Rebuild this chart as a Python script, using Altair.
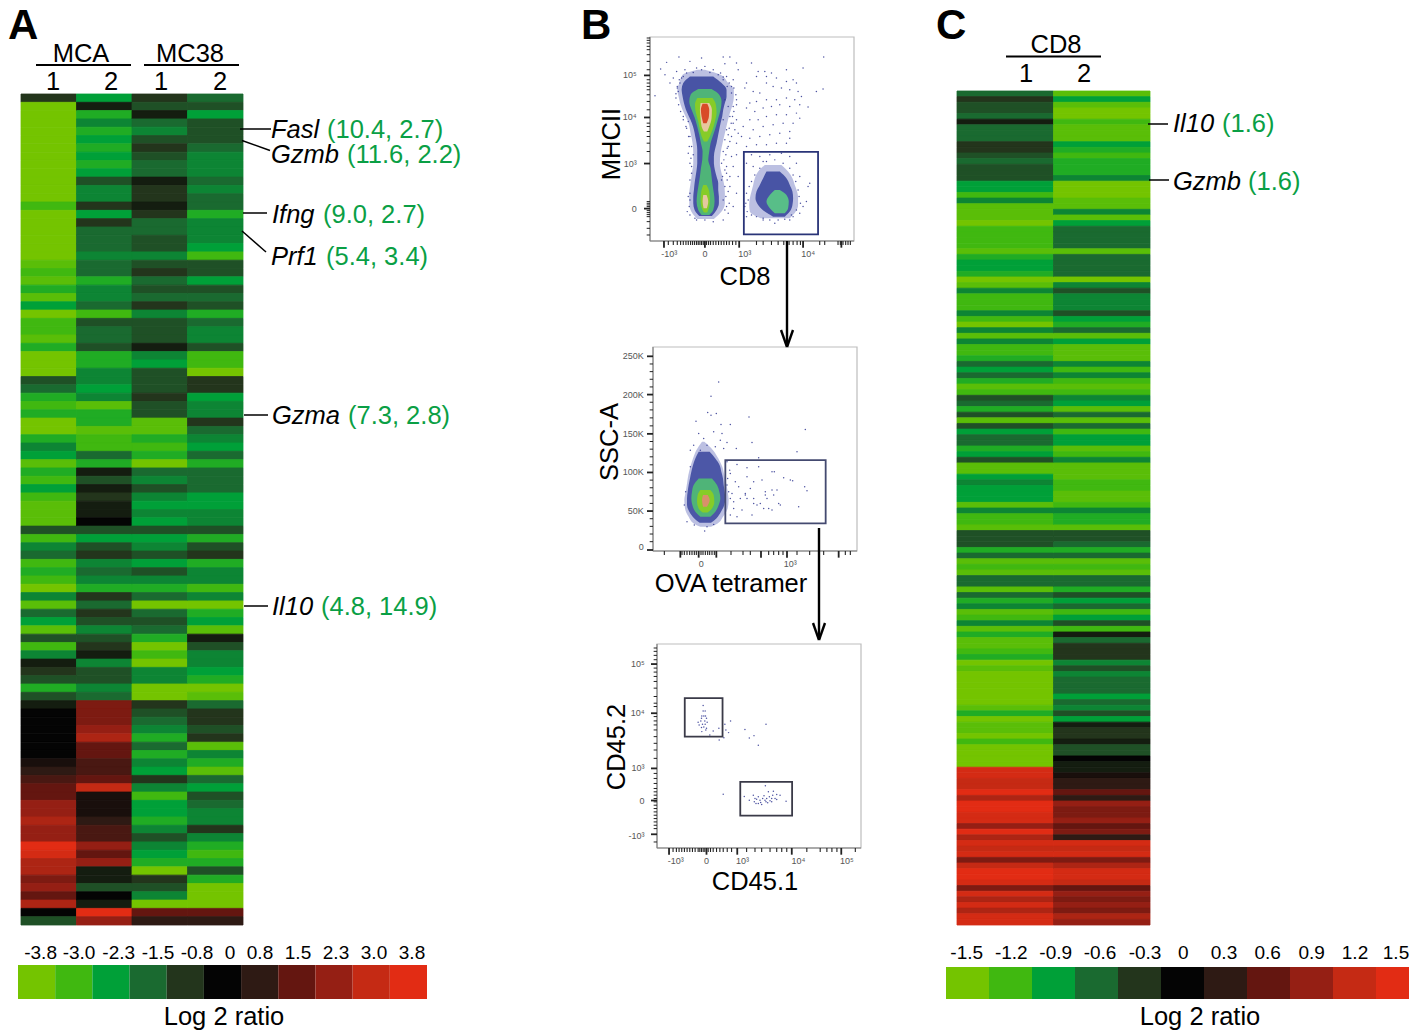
import altair as alt
import pandas as pd

FONT = "Liberation Sans"
PALETTE = ["#74C400", "#40B810", "#00A038", "#1A6A30", "#23351C", "#040404",
           "#2E1A14", "#641610", "#951F14", "#C52A14", "#E22C14"]

A_STEP = 0.375
C_STEP = 0.15
A_MCA1 = [-2,-10,-10,-10,-10,-10,-10,-10,-10,-10,
          -10,-10,-10,-8,-10,-10,-10,-10,-10,-10,
          -9,-8,-9,-7,-9,-6,-10,-8,-8,-9,
          -7,-10,-10,-10,-3,-4,-7,-8,-7,-10,
          -10,-7,-5,-6,-9,-7,-8,-6,-8,-9,
          -9,-9,-3,-8,-5,-4,-8,-7,-8,-10,
          -5,-9,-4,-6,-9,-3,-8,-5,-1,-2,
          -3,-7,-3,-1,0,0,0,0,0,0,
          1,2,3,4,4,6,6,7,6,6,
          10,9,7,7,5,6,4,7,0,-3]
A_MCA2 = [-6,-1,-7,-5,-7,-6,-7,-6,-7,-6,
          -3,-5,-5,-2,-6,-2,-4,-4,-4,-5,
          -4,-4,-7,-5,-5,-4,-8,-3,-4,-4,
          -3,-7,-7,-5,-5,-6,-5,-9,-7,-7,
          -9,-8,-8,-4,-7,-1,-3,-1,-2,-1,
          -1,0,-3,-6,-3,-2,-5,-4,-5,-7,
          -2,-4,-2,-3,-5,-3,-2,-1,-5,-3,
          -3,-5,-4,5,5,5,6,7,4,4,
          3,3,4,8,1,1,1,2,3,3,
          6,4,6,-1,-1,-3,0,-1,10,6]
A_MC381 = [-2,-3,-1,-4,-5,-3,-2,-3,-4,-4,
           -1,-2,-2,-1,-2,-4,-4,-3,-3,-5,
           -3,-2,-4,-3,-4,-2,-5,-3,-3,-3,
           -1,-5,-6,-3,-3,-3,-2,-3,-3,-9,
           -9,-7,-8,-7,-10,-4,-5,-3,-5,-6,
           -5,-6,-3,-6,-5,-3,-6,-3,-5,-7,
           -4,-10,-4,-3,-4,-7,-10,-8,-10,-5,
           -5,-10,-10,-2,-3,-4,-5,-7,-4,-7,
           -5,-6,-2,-5,-8,-6,-6,-7,-5,-3,
           -5,-6,-7,-10,-2,-3,-5,-10,4,2]
A_MC382 = [-4,-3,-6,-3,-3,-3,-4,-5,-5,-5,
           -4,-5,-4,-4,-7,-5,-5,-5,-6,-8,
           -3,-3,-6,-3,-4,-3,-7,-4,-5,-5,
           -3,-8,-8,-10,-2,-2,-6,-5,-5,-2,
           -4,-5,-6,-4,-7,-4,-4,-4,-6,-6,
           -5,-5,-3,-7,-3,-2,-7,-5,-5,-8,
           -5,-10,-7,-6,-9,-1,-3,-5,-5,-6,
           -7,-10,-9,-4,-2,-2,-3,-2,-9,-5,
           -7,-9,-4,-6,-3,-4,-5,-5,-2,-5,
           -7,-8,-7,-3,-7,-10,-10,-10,4,2]
C_CD81 = [-4,-2,-3,-3,-4,-1,-4,-4,-4,-2,
          -2,-3,-4,-3,-3,-3,-6,-6,-8,-5,
          -9,-9,-9,-10,-8,-8,-8,-8,-9,-7,
          -6,-6,-7,-10,-9,-5,-8,-8,-8,-5,
          -8,-10,-5,-9,-5,-8,-8,-7,-4,-6,
          -4,-7,-9,-8,-3,-4,-7,-3,-9,-3,
          -6,-4,-4,-7,-6,-3,-9,-9,-6,-5,
          -6,-6,-6,-9,-5,-8,-8,-9,-3,-3,
          -3,-7,-4,-9,-8,-9,-4,-4,-9,-4,
          -7,-5,-9,-8,-5,-9,-7,-9,-9,-8,
          -7,-10,-9,-10,-10,-10,-10,-10,-10,-9,
          -7,-10,-9,-9,-10,-8,-10,-10,-10,-10,
          9,9,8,8,10,7,10,10,9,9,
          6,10,7,9,8,9,5,8,10,10,
          9,5,9,7,9,7,9,9]
C_CD82 = [-9,-6,-9,-10,-10,-8,-9,-9,-9,-6,
          -7,-8,-7,-7,-7,-5,-10,-10,-10,-9,
          -9,-5,-9,-6,-4,-4,-4,-4,-9,-4,
          -4,-4,-4,-10,-5,-3,-5,-5,-5,-3,
          -6,-7,-4,-9,-6,-9,-9,-9,-5,-8,
          -5,-8,-9,-8,-5,-6,-9,-4,-9,-4,
          -8,-6,-6,-9,-8,-5,-9,-9,-9,-8,
          -8,-9,-9,-8,-5,-7,-7,-9,-3,-3,
          -4,-7,-4,-9,-8,-9,-4,-4,-7,-3,
          -6,-4,-8,-6,-3,-8,-1,-4,-2,-2,
          -2,-5,-3,-5,-4,-4,-4,-6,-4,-5,
          -3,-6,-1,-2,-2,-1,-3,-3,0,-1,
          -1,1,2,2,4,2,6,5,5,6,
          4,5,2,9,8,9,5,7,9,9,
          8,4,6,5,6,5,7,6]

KEY_A = ["-3.8","-3.0","-2.3","-1.5","-0.8","0","0.8","1.5","2.3","3.0","3.8"]
KEY_C = ["-1.5","-1.2","-0.9","-0.6","-0.3","0","0.3","0.6","0.9","1.2","1.5"]

P1_HALO0 = [(150,322,345),(165,278,392),(190,268,415),(210,262,432),(230,266,432),(255,272,428),(280,282,420),(310,296,412),
            (340,302,405),(370,308,398),(400,310,392),(430,310,390),(460,306,395),(490,302,402),(520,298,405),(550,298,405),
            (575,304,395),(597,322,372)]
P1_BLUE = [(170,300,370),(190,280,395),(210,275,410),(230,278,410),(250,282,405),(270,288,400),(290,297,397),
           (310,306,392),(330,312,388),(350,316,384),(370,320,380),(390,322,375),(410,322,372),(430,322,372),(450,320,375),
           (470,317,380),(490,314,385),(510,312,385),(530,310,387),(550,310,387),(570,314,380),(588,328,366)]
P1_GREEN = [(208,325,365),(225,302,388),(245,298,395),(270,305,392),(295,315,385),(320,322,378),(345,328,370),(370,333,362),
            (395,338,358),(420,337,355),(445,333,362),(470,330,365),(495,326,368),(520,322,372),(545,320,374),(570,325,370),(585,335,358)]
P1_LIME = [(235,322,368),(255,315,378),(280,318,380),(305,325,375),(330,330,368),(350,335,360),(365,342,352)]
P1_PALE = [(250,332,358),(270,330,366),(295,332,365),(320,335,358),(335,342,352)]
P1_RED = [(252,338,352),(270,333,358),(290,335,357),(310,340,350)]
P1_LIME2 = [(495,340,350),(515,334,358),(540,332,360),(560,334,358),(578,342,352)]
P1_PALE2 = [(525,340,350),(545,338,355),(565,341,351)]
P1_HALO = [(435,525,575),(455,505,595),(475,495,608),(495,490,615),(515,485,622),(535,480,625),(555,478,625),(575,480,618),(595,512,600)]
P1_BLUE2 = [(455,530,570),(475,520,590),(495,510,600),(515,500,608),(535,497,610),(555,505,608),(575,525,600),(590,550,585)]
P1_GREEN2 = [(510,555,570),(525,540,590),(545,530,597),(565,540,595),(580,555,585)]
P1_DOTS = [(195,228),(212,148),(230,128),(225,165),(267,112),(300,125),(335,115),(400,112),(420,112),(405,132),(440,130),(445,150),
           (485,130),(505,155),(525,155),(545,160),(590,150),(640,145),(702,112),(700,208),(680,215),(620,190),(610,180),(590,185),
           (560,175),(530,170),(500,170),(470,190),(465,205),(490,215),(510,220),(530,190),(550,200),(575,205),(600,210),(625,215),
           (635,230),(615,240),(590,235),(560,240),(530,240),(500,245),(480,250),(470,265),(495,275),(520,265),(545,260),(570,255),
           (600,260),(630,255),(655,262),(620,280),(590,285),(560,285),(530,290),(505,300),(480,300),(460,320),(490,330),(520,320),
           (550,315),(580,310),(610,310),(630,295),(600,335),(570,340),(540,345),(510,350),(480,355),(455,350),(440,300),(435,330),
           (425,350),(440,370),(470,380),(500,375),(530,375),(560,370),(590,370),(600,355),(420,290),(430,260),(440,240),(425,220),
           (412,200),(430,180),(410,170),(392,160),(370,150),(345,140),(320,145),(285,150),(260,155),(250,175),(240,190),(262,200),
           (258,235),(290,325),(300,350),(305,380),(295,400),(410,330),(405,360),(400,395),(395,430),(410,460),(430,440),(445,470),
           (420,500),(440,520),(430,560),(415,580),(400,600),(370,605),(345,600),(320,600),(660,490),(650,545),(640,560),(655,500),
           (620,430),(630,470),(600,410),(575,400),(540,405),(510,410),(485,405),(470,430),(490,440),(520,425),(465,560),(470,590),
           (610,590),(630,580),(600,600),(555,610),(520,600),(430,310),(445,340),(415,380),(425,410),(440,405),(400,300),(415,260),
           (405,240),(425,200),(400,180),(280,170),(268,180),(265,215),(280,290),(295,305),(310,405),(305,440),(300,480),(300,520),
           (298,560),(405,500),(400,540),(405,570),(395,480),
           (262,205),(258,222),(270,190),(275,175),(290,160),(310,158),(335,150),(360,158),(385,165),(400,172),(418,190),(432,205),
           (438,225),(440,255),(432,275),(428,290),(424,310),(418,325),(415,345),(420,365),(412,385),(408,405),(402,420),(410,440),
           (405,450),(398,470),(412,480),(420,470),(415,515),(408,530),(418,550),(410,560),(300,540),(295,530),(292,575),(300,585),
           (315,595),(305,460),(300,430),(303,415),(298,380),(296,350),(288,320),(280,300),(272,275),(266,255),
           (478,500),(470,520),(475,540),(468,550),(472,575),(485,585),(500,590),(520,595),(540,600),(565,600),(585,598),(605,585),
           (620,570),(632,550),(628,530),(625,510),(618,485),(610,465),(600,445),(580,430),(555,420),(530,425),(510,445),(495,465),(485,485)]
P2_HALO = [(320,335,342),(345,318,368),(370,308,384),(395,300,396),(420,294,402),(445,290,408),(470,286,412),(495,282,415),
           (520,284,412),(545,295,398),(565,310,382),(575,330,362)]
P2_BLUE = [(350,325,358),(370,315,375),(390,308,388),(410,303,393),(430,299,398),(450,295,400),(470,292,403),
           (490,290,405),(510,290,402),(530,297,392),(550,312,378),(563,328,362)]
P2_GREEN = [(430,325,365),(450,310,380),(470,305,387),(490,303,390),(510,306,385),(530,315,375),(545,330,360)]
P2_LIME = [(465,330,360),(480,322,370),(500,320,372),(520,325,365),(532,337,352)]
P2_RED = [(480,338,352),(495,335,358),(515,338,350)]
P2_DOTS = [(418,405),(440,388),(470,398),(505,368),(505,395),(545,410),(552,410),(580,428),(607,437),(515,435),(490,440),(470,425),
           (435,440),(420,415),(445,455),(480,460),(465,480),(490,490),(525,470),(545,465),(560,465),(530,490),(565,505),(535,520),
           (520,520),(500,510),(490,505),(465,475),(450,490),(430,500),(420,490),(415,470),(455,525),(430,520),(420,540),(440,545),
           (485,540),(545,525),(570,510),(625,515),(643,455),(650,467),(600,435),(410,450),(425,475),(470,490),(510,505),(550,480),
           (525,480),(385,140),(362,183),(352,232),(378,235),(362,240),(317,258),(420,268),(392,268),(476,245),(645,283),(325,295),
           (370,290),(395,295),(340,310),(310,330),(390,315),(410,322),(485,322),(438,340),(620,350),(300,345),(350,330),(375,335),
           (400,340),(343,588),(312,570),(290,560),(370,568),(350,575),(330,345),(282,510),(286,470),(300,395),(410,380),(412,430)]
P3_DOTS = [(340,212),(340,228),(346,228),(336,243),(342,243),(347,243),(335,250),(350,250),(325,262),(333,258),(345,258),(352,262),
           (328,270),(338,268),(346,268),(335,278),(342,276),(350,280),(336,290),(348,285),(370,288),(360,300),(387,280),(405,268),
           (422,258),(408,285),(416,293),(388,315),(402,308),(465,284),(478,309),(492,302),(505,331),(528,268),(400,477),(463,484),
           (478,495),(490,480),(495,490),(493,500),(500,492),(505,485),(510,495),(512,502),(518,490),(522,482),(525,495),(528,500),
           (530,490),(535,470),(538,485),(540,497),(545,490),(548,480),(550,468),(555,490),(560,493),(570,480),(526,452),(533,503),
           (505,505),(515,508),(588,498),(498,505),(545,500),(560,478)]

PANELS = {
    "p1": dict(xd=[180,793], yd=[52,663], xr=[650,854], yr=[37,241], gate=[(462,396,685,643)], gc="#2A3478",
               xmaj=[222,345,448,640,755], ymaj=[167,293,431,566],
               xmin=[235,250,262,272,280,288,295,302,308,314,320,325,330,335,340,350,356,362,370,378,386,394,402,410,418,428,438,
                     500,520,545,565,582,598,610,622,632,690,705,745,752,760,768,775,782],
               ymin=[55,62,70,80,90,105,125,150,180,190,200,210,225,245,270,310,320,335,350,370,395,545,550,555,560,572,578,584,590,605,625,645],
               xlab=[("-10³",238),("0",345),("10³",465),("10⁴",655)], xly=712,
               ylab=[("10⁵",167),("10⁴",293),("10³",431),("0",566)], ylx=140),
    "p2": dict(xd=[188,800], yd=[35,648], xr=[653,857], yr=[347,551], gate=[(405,375,706,565)], gc="#444A70",
               xmaj=[270,325,378,512,590,745], ymaj=[63,178,296,412,528,645],
               xmin=[222,275,282,290,298,305,312,318,332,338,345,352,358,365,372,422,458,480,535,550,565,578,620,658,700,765,780],
               ymin=[86,109,132,155,201,224,248,272,319,342,365,389,435,458,482,505,551,574,597,620],
               xlab=[("0",333),("10³",600)], xly=697,
               ylab=[("250K",63),("200K",178),("150K",296),("100K",412),("50K",528),("0",637)], ylx=160),
    "p3": dict(xd=[202,812], yd=[28,638], xr=[657,861], yr=[644,848], gate=[(285,190,398,305),(451,440,606,541)], gc="#3A3A48",
               xmaj=[238,350,442,605,753], ymaj=[88,235,400,496,597],
               xmin=[250,260,268,276,284,292,300,308,316,325,330,335,340,345,355,362,370,380,390,400,412,425,470,495,515,540,560,575,590,650,690,710,725,740,795],
               ymin=[40,50,62,75,100,112,125,140,160,185,205,215,245,258,270,285,305,325,345,370,415,430,445,460,470,480,490,500,510,520,530,540,550,560,570,580,620],
               xlab=[("-10³",258),("0",350),("10³",458),("10⁴",625),("10⁵",770)], xly=687,
               ylab=[("10⁵",88),("10⁴",235),("10³",400),("0",496),("-10³",603)], ylx=165),
}

PW, PH = 1401, 1023
pgx = alt.Scale(domain=[8, 8 + PW], range=[0, PW], nice=False, zero=False)
pgy = alt.Scale(domain=[8, 8 + PH], range=[0, PH], nice=False, zero=False)


def X(f, s):
    return alt.X(f, type="quantitative", scale=s, axis=None)


def Y(f, s):
    return alt.Y(f, type="quantitative", scale=s, axis=None)


def X2(f):
    return alt.X2(f)


def page_text(rows, size=25.5, color="black", **kw):
    df = pd.DataFrame(rows, columns=["t", "x", "y"])
    return alt.Chart(df).mark_text(font=FONT, fontSize=size, color=color, baseline="alphabetic", **kw).encode(
        x=X("x", pgx), y=Y("y", pgy), text="t:N")


def page_lines(rows, width=1.6, color="black"):
    df = pd.DataFrame(rows, columns=["x", "y", "x2", "y2"])
    return alt.Chart(df).mark_rule(color=color, strokeWidth=width).encode(
        x=X("x", pgx), y=Y("y", pgy), x2=X2("x2"), y2=alt.Y2("y2"))


def heat(cols, step, xr, yr):
    n = len(cols[0])
    rows = []
    for c, col in enumerate(cols):
        for r, v in enumerate(col):
            rows.append(dict(c=c, c2=c + 1, r=r, r2=r + 1, v=v * step))
    sx = alt.Scale(domain=[0, len(cols)], range=[xr[0] - 8, xr[1] - 8], nice=False, zero=False)
    sy = alt.Scale(domain=[0, n], range=[yr[0] - 8, yr[1] - 8], nice=False, zero=False)
    dom = [step * 2 * i for i in range(-5, 6)]
    cs = alt.Scale(domain=dom, range=PALETTE, interpolate="rgb")
    return alt.Chart(pd.DataFrame(rows)).mark_rect(strokeWidth=0.8).encode(
        x=X("c", sx), x2=X2("c2"), y=Y("r", sy), y2=alt.Y2("r2"),
        fill=alt.Fill("v:Q", scale=cs, legend=None),
        stroke=alt.Stroke("v:Q", scale=cs, legend=None))


def key(labels, xr, yr):
    rows = [dict(i=i, i2=i + 1, lab=l, col=PALETTE[i]) for i, l in enumerate(labels)]
    sx = alt.Scale(domain=[0, 11], range=[xr[0] - 8, xr[1] - 8], nice=False, zero=False)
    sy = alt.Scale(domain=[0, 1], range=[yr[0] - 8, yr[1] - 8], nice=False, zero=False)
    return alt.Chart(pd.DataFrame(rows)).transform_calculate(a="0", b="1").mark_rect().encode(
        x=X("i", sx), x2=X2("i2"), y=Y("a", sy), y2=alt.Y2("b"),
        fill=alt.Fill("col:N", scale=None, legend=None))


def scales_of(p):
    sx = alt.Scale(domain=p["xd"], range=[p["xr"][0] - 8, p["xr"][1] - 8], nice=False, zero=False)
    sy = alt.Scale(domain=p["yd"], range=[p["yr"][0] - 8, p["yr"][1] - 8], nice=False, zero=False)
    return sx, sy


def band(p, rows, color, opacity=1.0):
    sx, sy = scales_of(p)
    df = pd.DataFrame(rows, columns=["y", "l", "r"])
    return alt.Chart(df).mark_area(orient="horizontal", interpolate="monotone", color=color, opacity=opacity).encode(
        x=X("l", sx), x2=X2("r"), y=Y("y", sy))


def dots(p, pts):
    sx, sy = scales_of(p)
    df = pd.DataFrame(pts, columns=["x", "y"])
    return alt.Chart(df).mark_circle(size=2.2, color="#2E3590", opacity=0.85).encode(x=X("x", sx), y=Y("y", sy))


def frame(p):
    sx, sy = scales_of(p)
    (x0, x1), (y0, y1) = p["xd"], p["yd"]
    out = []
    df = pd.DataFrame([dict(x=x0, x2=x1, y=y0, y2=y1)])
    out.append(alt.Chart(df).mark_rect(fillOpacity=0, stroke="#BDBDBD", strokeWidth=1.2).encode(
        x=X("x", sx), x2=X2("x2"), y=Y("y", sy), y2=alt.Y2("y2")))
    l = pd.DataFrame([dict(x=x0, x2=x1, y=y1, y2=y1), dict(x=x0, x2=x0, y=y0, y2=y1)])
    out.append(alt.Chart(l).mark_rule(color="#777777", strokeWidth=1).encode(
        x=X("x", sx), x2=X2("x2"), y=Y("y", sy), y2=alt.Y2("y2")))
    g = pd.DataFrame(p["gate"], columns=["x", "y", "x2", "y2"])
    out.append(alt.Chart(g).mark_rect(fillOpacity=0, stroke=p["gc"], strokeWidth=1.8).encode(
        x=X("x", sx), x2=X2("x2"), y=Y("y", sy), y2=alt.Y2("y2")))
    return out


def axes(p):
    sx, sy = scales_of(p)
    x0, y1 = p["xd"][0], p["yd"][1]
    out = []
    for vals, ln, w in ((p["xmaj"], 20, 1.8), (p["xmin"], 12, 1.1)):
        t = pd.DataFrame(dict(x=vals, y=y1, y2=y1 + ln))
        out.append(alt.Chart(t).mark_rule(color="#222222", strokeWidth=w).encode(
            x=X("x", sx), y=Y("y", sy), y2=alt.Y2("y2")))
    for vals, ln, w in ((p["ymaj"], 18, 1.8), (p["ymin"], 10, 1.0)):
        t = pd.DataFrame(dict(y=vals, x=x0, x2=x0 - ln))
        out.append(alt.Chart(t).mark_rule(color="#222222", strokeWidth=w).encode(
            x=X("x", sx), x2=X2("x2"), y=Y("y", sy)))
    xl = pd.DataFrame(p["xlab"], columns=["t", "x"]).assign(y=p["xly"])
    out.append(alt.Chart(xl).mark_text(font=FONT, fontSize=9, color="#555555", baseline="alphabetic").encode(
        x=X("x", sx), y=Y("y", sy), text="t:N"))
    yl = pd.DataFrame(p["ylab"], columns=["t", "y"]).assign(x=p["ylx"])
    out.append(alt.Chart(yl).mark_text(font=FONT, fontSize=9, color="#555555", baseline="middle", align="right").encode(
        x=X("x", sx), y=Y("y", sy), text="t:N"))
    return out


layers = []
layers.append(heat([A_MCA1, A_MCA2, A_MC381, A_MC382], A_STEP, (21, 243), (94, 925)))
layers.append(heat([C_CD81, C_CD82], C_STEP, (957, 1150), (91, 925)))
layers.append(key(KEY_A, (18, 427), (965, 999)))
layers.append(key(KEY_C, (946, 1419), (967, 999)))

p1, p2, p3 = PANELS["p1"], PANELS["p2"], PANELS["p3"]
BLUE = "#38449C"
LIGHT = "#8F96CE"
layers += [band(p1, P1_HALO0, LIGHT, 0.6), band(p1, P1_BLUE, BLUE, 0.88), band(p1, P1_GREEN, "#4FB478"), band(p1, P1_LIME, "#86CC28"),
           band(p1, P1_PALE, "#E6C8A0"), band(p1, P1_RED, "#D84A28"), band(p1, P1_LIME2, "#86CC28"),
           band(p1, P1_PALE2, "#E6C8A0"), band(p1, P1_HALO, LIGHT, 0.6), band(p1, P1_BLUE2, BLUE, 0.88),
           band(p1, P1_GREEN2, "#58BE88"), dots(p1, P1_DOTS)]
layers += [band(p2, P2_HALO, LIGHT, 0.6), band(p2, P2_BLUE, BLUE, 0.85), band(p2, P2_GREEN, "#4FB478"), band(p2, P2_LIME, "#86CC28"),
           band(p2, P2_RED, "#D8906A"), dots(p2, P2_DOTS)]
layers += [dots(p3, P3_DOTS)]
for p in (p1, p2, p3):
    layers += frame(p) + axes(p)

layers.append(page_text([("MCA", 81, 62), ("MC38", 190, 62), ("1", 53, 90), ("2", 111, 90), ("1", 161, 90), ("2", 220, 90),
                         ("CD8", 1056, 53), ("1", 1026, 82), ("2", 1084, 82),
                         ("CD8", 745, 285), ("OVA tetramer", 731, 592), ("CD45.1", 755, 890),
                         ("Log 2 ratio", 224, 1025), ("Log 2 ratio", 1200, 1025)], align="center"))
layers.append(page_lines([(36, 65, 131, 65), (144, 65, 239, 65), (1006, 56.5, 1101, 56.5)], 1.8))
layers.append(page_text([("MHCII", 620, 144), ("SSC-A", 618, 442), ("CD45.2", 625, 747)], align="center", angle=270))
layers.append(page_text([("A", 8, 39), ("B", 581, 39), ("C", 936, 39)], size=42, fontWeight="bold", align="left"))

layers.append(page_text([("Fasl", 271, 138), ("Gzmb", 271, 163), ("Ifng", 272, 223), ("Prf1", 271, 265), ("Gzma", 272, 424),
                         ("Il10", 272, 615), ("Il10", 1173, 132), ("Gzmb", 1173, 190)], fontStyle="italic", align="left"))
layers.append(page_text([("(10.4, 2.7)", 327, 138), ("(11.6, 2.2)", 347, 163), ("(9.0, 2.7)", 323, 223), ("(5.4, 3.4)", 326, 265),
                         ("(7.3, 2.8)", 348, 424), ("(4.8, 14.9)", 321, 615), ("(1.6)", 1222, 132), ("(1.6)", 1248, 190)],
                        color="#0A9F45", align="left"))
layers.append(page_lines([(240, 129, 271, 129), (242, 140.5, 270, 150.5), (243, 213, 267, 213), (242, 231, 266, 252),
                          (244, 415, 268, 415), (244, 606, 268, 606), (1148, 124, 1168, 124), (1149, 180, 1169, 180)], 1.5))

layers.append(page_lines([(787, 241, 787, 346), (819, 528, 819, 639), (781, 330, 787, 347), (793, 330, 787, 347),
                          (813, 623, 819, 640), (825, 623, 819, 640)], 2.4))

layers.append(page_text(list(zip(KEY_A, [40.6, 79, 118.7, 158, 197, 230, 260, 298, 336, 374, 412], [959] * 11)), size=19, align="center"))
layers.append(page_text(list(zip(KEY_C, [966.7, 1011.3, 1055.7, 1100, 1145, 1183.3, 1224, 1267.7, 1311.7, 1355, 1396], [959] * 11)), size=19, align="center"))

chart = alt.layer(*layers).resolve_scale(x="independent", y="independent", fill="independent", stroke="independent").properties(
    width=PW, height=PH, padding=0, autosize=alt.AutoSizeParams(type="none")
).configure_view(stroke=None).configure_axis(grid=False)

chart.save("out.html", embed_options={"renderer": "svg", "actions": False})
